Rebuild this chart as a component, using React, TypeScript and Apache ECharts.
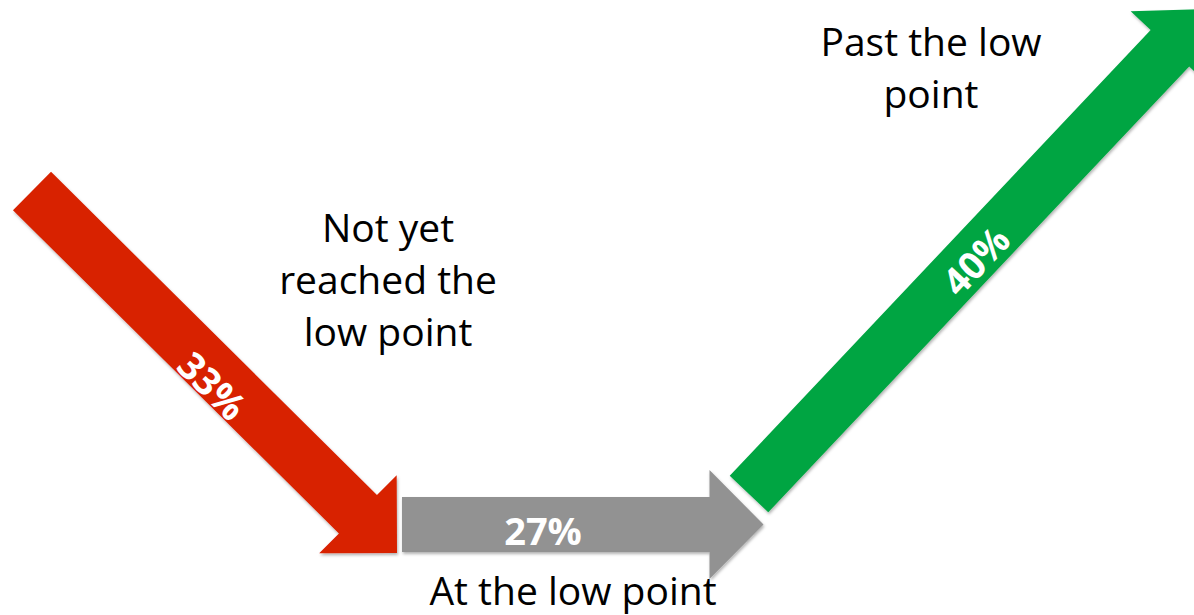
import React, { useEffect, useRef } from "react";
import * as echarts from "echarts";

// ---- data ----
const categories = ["Not yet reached the low point", "At the low point", "Past the low point"];
const categoryLines = [["Not yet", "reached the", "low point"], ["At the low point"], ["Past the low", "point"]];
const shares = [33, 27, 40];
const shareLabels = shares.map((v) => `${v}%`);

// ---- styles / layout (pixel units of the 1194 x 615 canvas) ----
const colors = ["#d82100", "#929292", "#00a542"];
const ARROWS = [
  { tail: [32, 191], tip: [397, 553], shaftHalf: 27, headHalf: 55, headLen: 55 },
  { tail: [402, 524.5], tip: [763.5, 524.5], shaftHalf: 27.5, headHalf: 54.5, headLen: 54 },
  { tail: [749, 494], tip: [1207, 9], shaftHalf: 26.5, headHalf: 54, headLen: 54 },
];
const VALUE_POS = [
  [213, 385],
  [543, 530],
  [975, 260],
];
const CAT_POS = [
  [388, 278],
  [573, 589],
  [931, 66],
];
const CAT_LINE_H = [52, 40, 52];
const FONT = "'Open Sans'";

export default function App() {
  const ref = useRef<HTMLDivElement>(null);
  useEffect(() => {
    if (!ref.current) return;
    const chart = echarts.init(ref.current, undefined, { renderer: "svg" });
    chart.setOption({
      animation: false,
      backgroundColor: "#ffffff",
      grid: { left: 0, right: 0, top: 0, bottom: 0 },
      xAxis: { type: "value", min: 0, max: 1194, show: false },
      yAxis: { type: "value", min: 0, max: 615, inverse: true, show: false },
      series: [
        {
          type: "custom",
          name: "share",
          clip: false,
          data: shares.map((v, i) => [i, v]),
          renderItem: (params: any, api: any) => {
            const i = api.value(0);
            const a = ARROWS[i];
            const T = api.coord(a.tail);
            const P = api.coord(a.tip);
            const dx = P[0] - T[0];
            const dy = P[1] - T[1];
            const len = Math.sqrt(dx * dx + dy * dy);
            const d = [dx / len, dy / len];
            const n = [-d[1], d[0]];
            const B = [P[0] - d[0] * a.headLen, P[1] - d[1] * a.headLen];
            const pt = (base: number[], k: number) => [base[0] + n[0] * k, base[1] + n[1] * k];
            const points = [
              pt(T, a.shaftHalf),
              pt(B, a.shaftHalf),
              pt(B, a.headHalf),
              P,
              pt(B, -a.headHalf),
              pt(B, -a.shaftHalf),
              pt(T, -a.shaftHalf),
            ];
            const rotation = Math.atan2(-dy, dx);
            const vp = api.coord(VALUE_POS[i]);
            const cp = api.coord(CAT_POS[i]);
            return {
              type: "group",
              children: [
                {
                  type: "polygon",
                  shape: { points },
                  style: {
                    fill: colors[i],
                    shadowBlur: 3,
                    shadowOffsetX: 1,
                    shadowOffsetY: 2,
                    shadowColor: "rgba(0,0,0,0.3)",
                  },
                },
                {
                  type: "text",
                  x: vp[0],
                  y: vp[1],
                  rotation,
                  style: {
                    text: shareLabels[i],
                    fill: "#ffffff",
                    fontFamily: FONT,
                    fontWeight: "bold",
                    fontSize: 38,
                    align: "center",
                    verticalAlign: "middle",
                  },
                },
                {
                  type: "text",
                  x: cp[0],
                  y: cp[1],
                  style: {
                    text: categoryLines[i].join("\n"),
                    fill: "#000000",
                    fontFamily: FONT,
                    fontSize: 39,
                    lineHeight: CAT_LINE_H[i],
                    align: "center",
                    verticalAlign: "middle",
                  },
                },
              ],
            };
          },
        },
      ],
    });
    return () => chart.dispose();
  }, []);
  return (
    <div
      ref={ref}
      aria-label={categories.join(", ")}
      style={{ position: "fixed", left: 0, top: 0, width: 1194, height: 615 }}
    />
  );
}
